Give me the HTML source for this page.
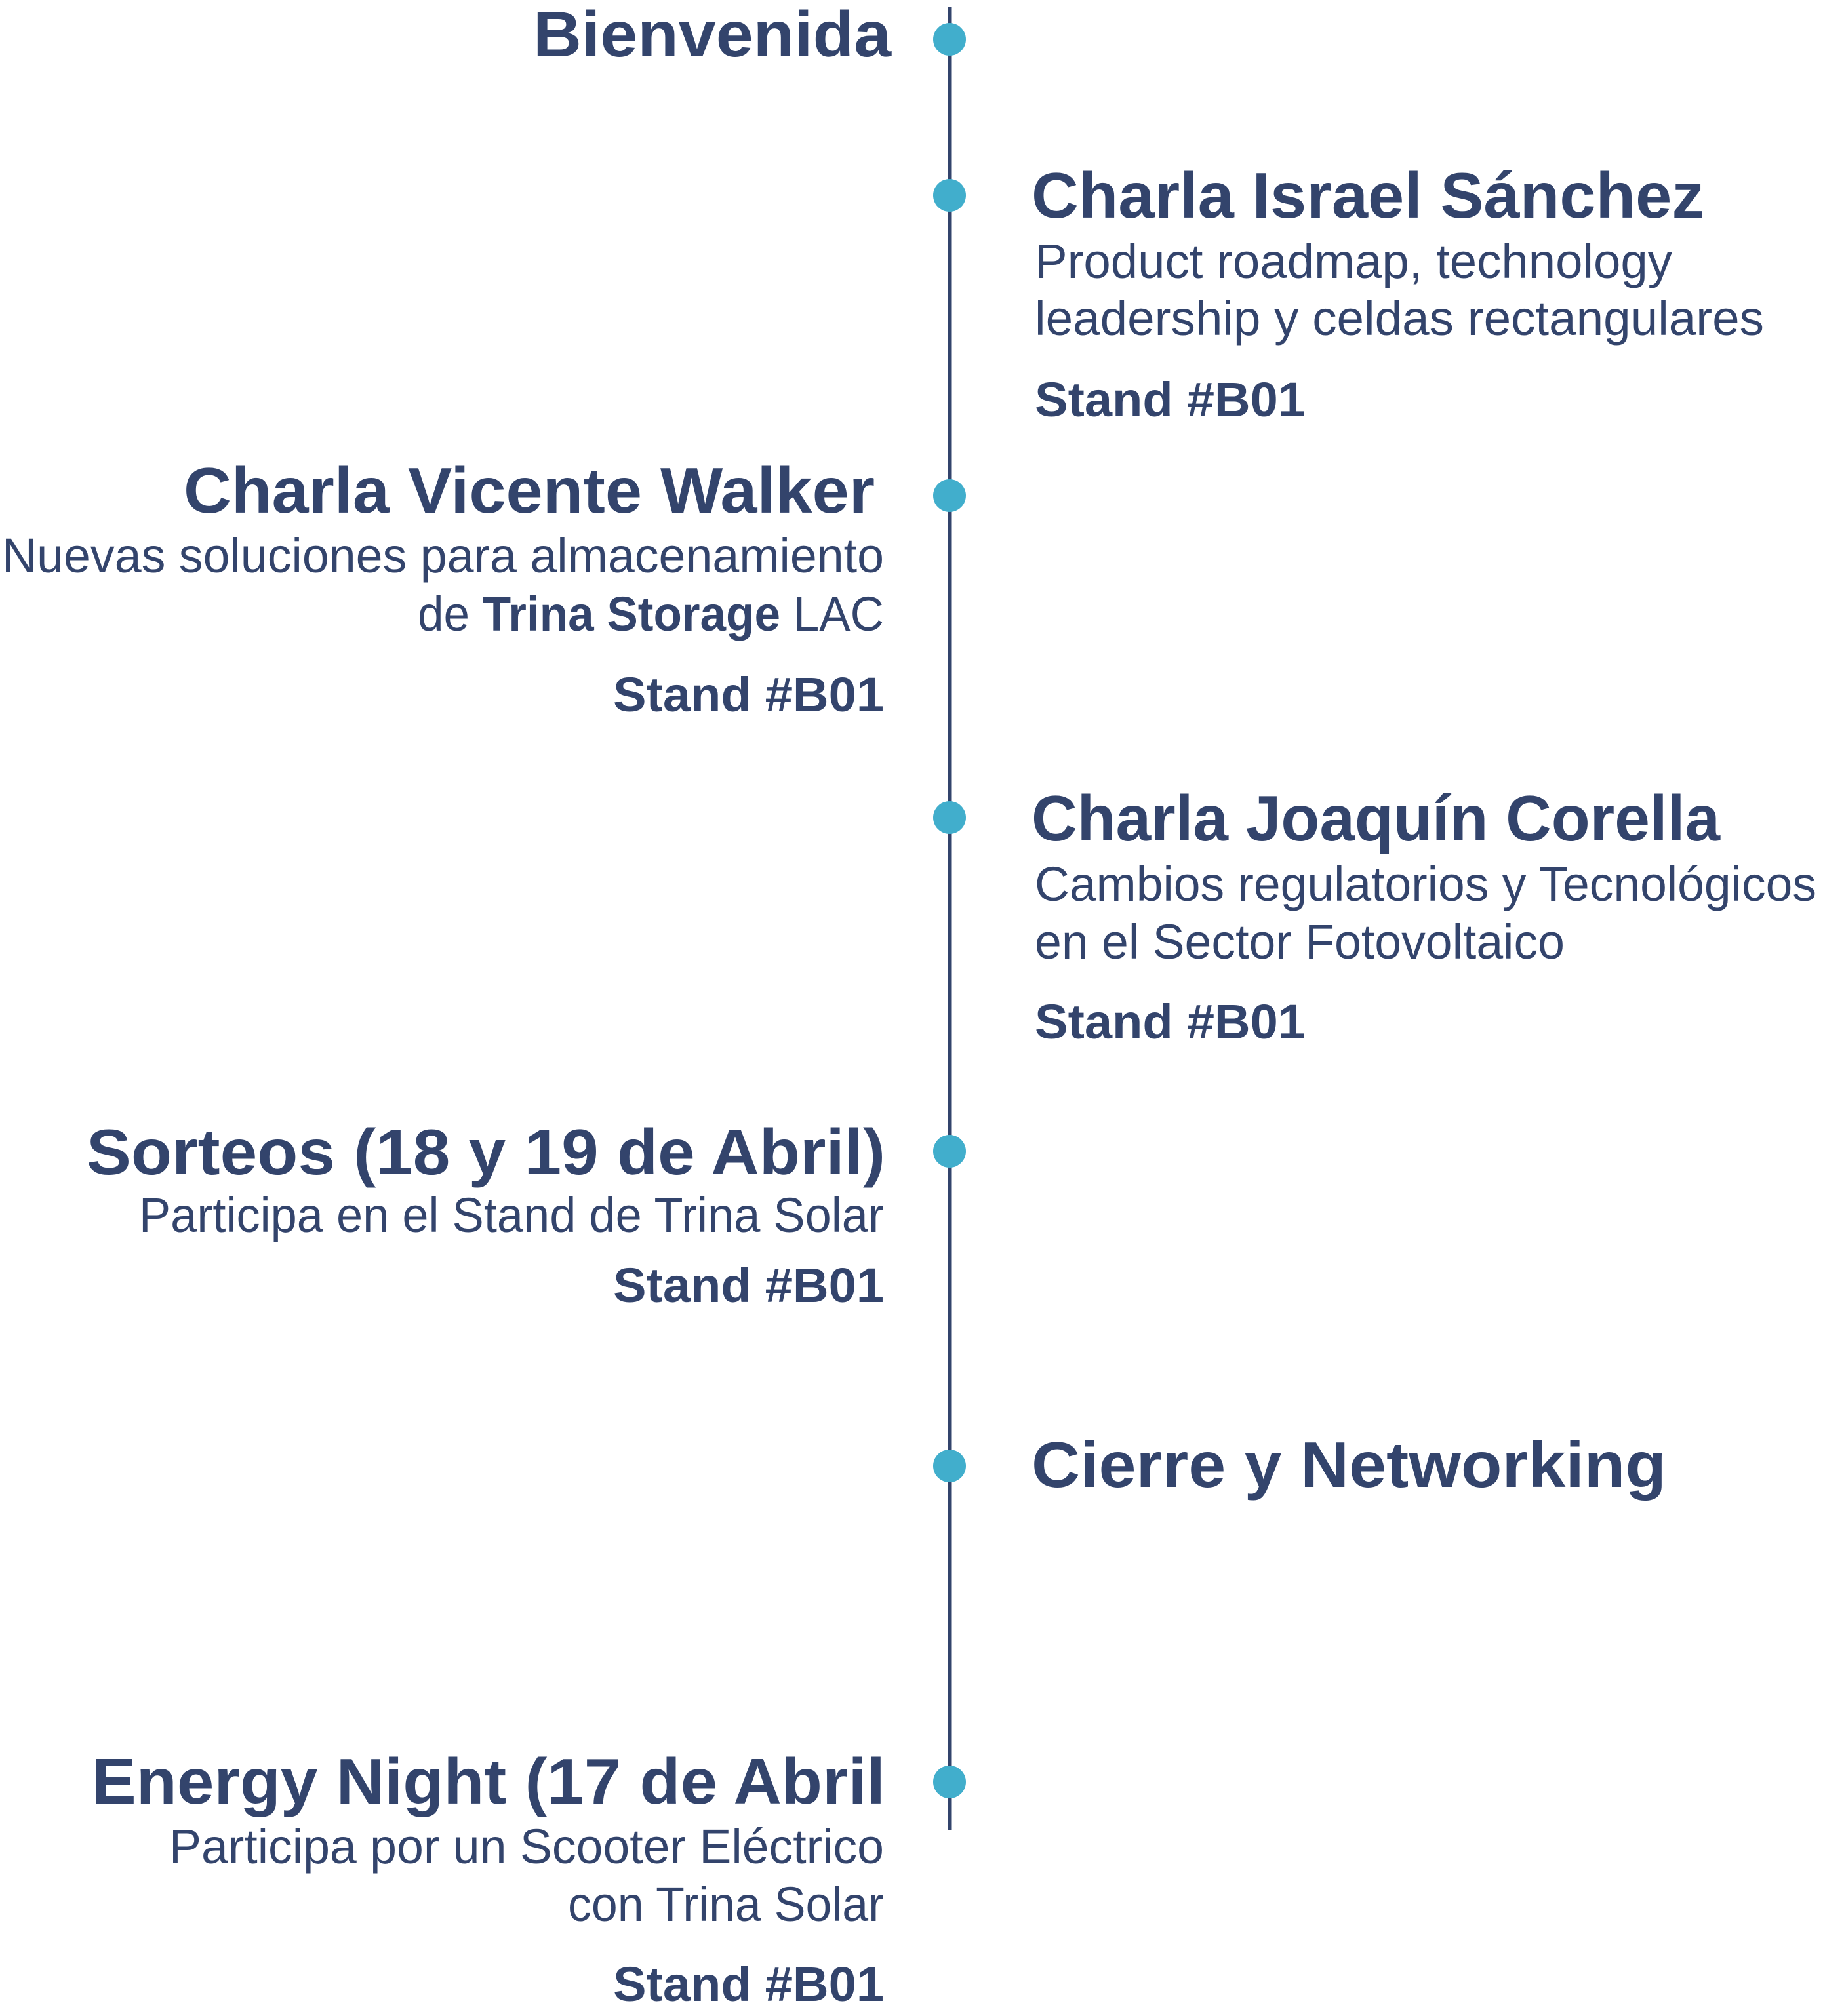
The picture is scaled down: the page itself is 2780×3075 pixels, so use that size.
<!DOCTYPE html>
<html><head><meta charset="utf-8"><style>
html,body{margin:0;padding:0;background:#fff;}
svg{display:block}
text{font-family:"Liberation Sans",sans-serif;fill:#33446c}
.t{font-weight:bold;font-size:98px}
.s{font-size:74px}
.b{font-weight:bold;font-size:74px}
</style></head><body>
<svg width="2780" height="3075" viewBox="0 0 2780 3075" xmlns="http://www.w3.org/2000/svg">
<line x1="1448" y1="10" x2="1448" y2="2792" stroke="#33446c" stroke-width="5"/>
<g fill="#41aecc">
<circle cx="1448" cy="60" r="25"/>
<circle cx="1448" cy="298" r="25"/>
<circle cx="1448" cy="756" r="25"/>
<circle cx="1448" cy="1247" r="25"/>
<circle cx="1448" cy="1756" r="25"/>
<circle cx="1448" cy="2236" r="25"/>
<circle cx="1448" cy="2718" r="25"/>
</g>
<text class="t" x="1359" y="86" text-anchor="end" textLength="546" lengthAdjust="spacingAndGlyphs">Bienvenida</text>

<text class="t" x="1573" y="332" textLength="1026" lengthAdjust="spacingAndGlyphs">Charla Israel Sánchez</text>
<text class="s" x="1578" y="424" textLength="972" lengthAdjust="spacingAndGlyphs">Product roadmap, technology</text>
<text class="s" x="1578" y="511" textLength="1112" lengthAdjust="spacingAndGlyphs">leadership y celdas rectangulares</text>
<text class="b" x="1578" y="635" textLength="413" lengthAdjust="spacingAndGlyphs">Stand #B01</text>

<text class="t" x="1334" y="782" text-anchor="end" textLength="1054" lengthAdjust="spacingAndGlyphs">Charla Vicente Walker</text>
<text class="s" x="1348" y="873" text-anchor="end" textLength="1345" lengthAdjust="spacingAndGlyphs">Nuevas soluciones para almacenamiento</text>
<text class="s" x="1348" y="962" text-anchor="end" textLength="711" lengthAdjust="spacingAndGlyphs">de <tspan font-weight="bold">Trina Storage</tspan> LAC</text>
<text class="b" x="1348" y="1085" text-anchor="end" textLength="413" lengthAdjust="spacingAndGlyphs">Stand #B01</text>

<text class="t" x="1573" y="1282" textLength="1050" lengthAdjust="spacingAndGlyphs">Charla Joaquín Corella</text>
<text class="s" x="1578" y="1374" textLength="1192" lengthAdjust="spacingAndGlyphs">Cambios regulatorios y Tecnológicos</text>
<text class="s" x="1578" y="1462" textLength="808" lengthAdjust="spacingAndGlyphs">en el Sector Fotovoltaico</text>
<text class="b" x="1578" y="1584" textLength="413" lengthAdjust="spacingAndGlyphs">Stand #B01</text>

<text class="t" x="1350" y="1791" text-anchor="end" textLength="1218" lengthAdjust="spacingAndGlyphs">Sorteos (18 y 19 de Abril)</text>
<text class="s" x="1348" y="1879" text-anchor="end" textLength="1136" lengthAdjust="spacingAndGlyphs">Participa en el Stand de Trina Solar</text>
<text class="b" x="1348" y="1986" text-anchor="end" textLength="413" lengthAdjust="spacingAndGlyphs">Stand #B01</text>

<text class="t" x="1573" y="2268" textLength="968" lengthAdjust="spacingAndGlyphs">Cierre y Networking</text>

<text class="t" x="1350" y="2751" text-anchor="end" textLength="1210" lengthAdjust="spacingAndGlyphs">Energy Night (17 de Abril</text>
<text class="s" x="1348" y="2842" text-anchor="end" textLength="1090" lengthAdjust="spacingAndGlyphs">Participa por un Scooter Eléctrico</text>
<text class="s" x="1348" y="2930" text-anchor="end" textLength="482" lengthAdjust="spacingAndGlyphs">con Trina Solar</text>
<text class="b" x="1348" y="3052" text-anchor="end" textLength="413" lengthAdjust="spacingAndGlyphs">Stand #B01</text>
</svg>
</body></html>
